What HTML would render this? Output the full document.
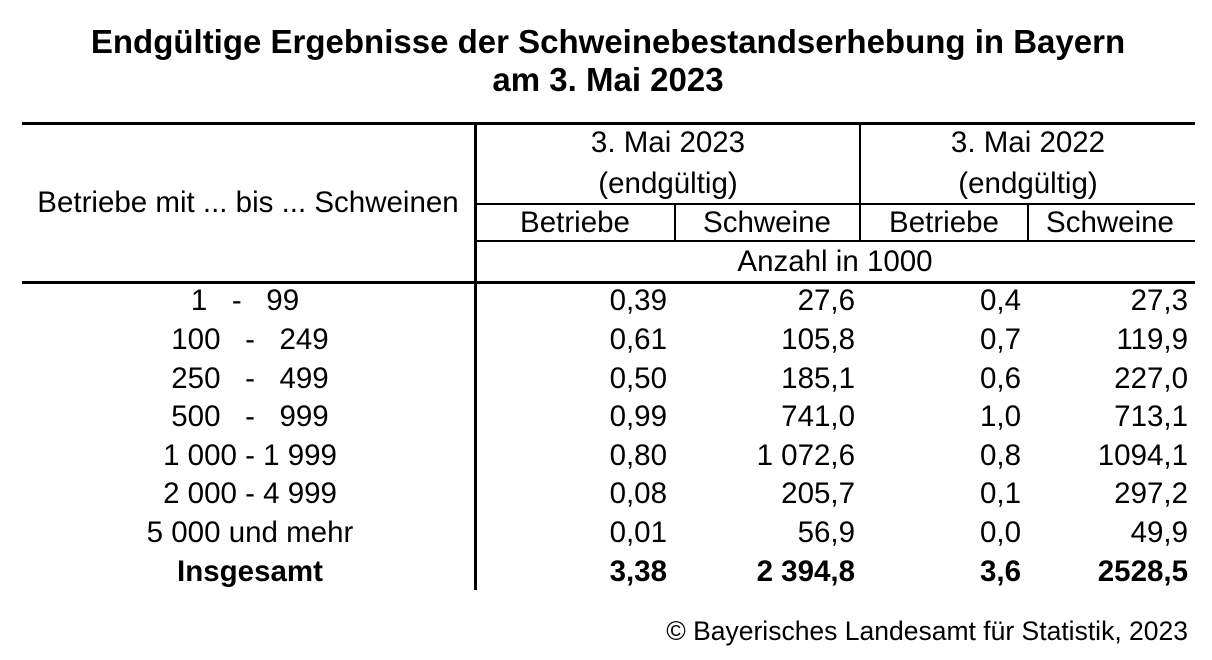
<!DOCTYPE html>
<html><head><meta charset="utf-8"><style>
body{margin:0;width:1212px;height:660px;background:#fff;position:relative;font-family:"Liberation Sans",Arial,sans-serif;color:#000;overflow:hidden}
.t{position:absolute;font-size:29.5px;line-height:28px;white-space:nowrap}
.c{transform:translateX(-50%)}
.r{transform:translateX(-100%)}
.h{position:absolute;background:#000}
.b{font-weight:bold}
</style></head><body>
<div class="t c b" style="left:608px;top:25px;font-size:33px;line-height:34px">Endgültige Ergebnisse der Schweinebestandserhebung in Bayern</div>
<div class="t c b" style="left:608px;top:63px;font-size:33px;line-height:34px">am 3. Mai 2023</div>

<div class="h" style="left:22px;top:122px;width:1173px;height:3px"></div>
<div class="h" style="left:475px;top:203px;width:720px;height:2px"></div>
<div class="h" style="left:475px;top:240px;width:720px;height:2px"></div>
<div class="h" style="left:22px;top:281px;width:1173px;height:3px"></div>
<div class="h" style="left:474px;top:122px;width:3px;height:468px"></div>
<div class="h" style="left:859px;top:122px;width:2px;height:120px"></div>
<div class="h" style="left:674px;top:203px;width:2px;height:39px"></div>
<div class="h" style="left:1027px;top:203px;width:2px;height:39px"></div>

<div class="t c" style="left:248px;top:189px">Betriebe mit ... bis ... Schweinen</div>
<div class="t c" style="left:668px;top:129px">3. Mai 2023</div>
<div class="t c" style="left:668px;top:170px">(endgültig)</div>
<div class="t c" style="left:1028px;top:129px">3. Mai 2022</div>
<div class="t c" style="left:1028px;top:170px">(endgültig)</div>
<div class="t c" style="left:575px;top:209px">Betriebe</div>
<div class="t c" style="left:767px;top:209px">Schweine</div>
<div class="t c" style="left:944px;top:209px">Betriebe</div>
<div class="t c" style="left:1110px;top:209px">Schweine</div>
<div class="t c" style="left:835px;top:248px">Anzahl in 1000</div>

<div class="t c" style="left:245px;top:287px">1&nbsp;&nbsp;&nbsp;-&nbsp;&nbsp;&nbsp;99</div>
<div class="t c" style="left:250px;top:326px">100&nbsp;&nbsp;&nbsp;-&nbsp;&nbsp;&nbsp;249</div>
<div class="t c" style="left:250px;top:365px">250&nbsp;&nbsp;&nbsp;-&nbsp;&nbsp;&nbsp;499</div>
<div class="t c" style="left:250px;top:403px">500&nbsp;&nbsp;&nbsp;-&nbsp;&nbsp;&nbsp;999</div>
<div class="t c" style="left:250px;top:442px">1 000 - 1 999</div>
<div class="t c" style="left:250px;top:480px">2 000 - 4 999</div>
<div class="t c" style="left:250px;top:519px">5 000 und mehr</div>
<div class="t c b" style="left:250px;top:558px">Insgesamt</div>

<div class="t r" style="left:667px;top:287px">0,39</div>
<div class="t r" style="left:667px;top:326px">0,61</div>
<div class="t r" style="left:667px;top:365px">0,50</div>
<div class="t r" style="left:667px;top:403px">0,99</div>
<div class="t r" style="left:667px;top:442px">0,80</div>
<div class="t r" style="left:667px;top:480px">0,08</div>
<div class="t r" style="left:667px;top:519px">0,01</div>
<div class="t r b" style="left:667px;top:558px">3,38</div>

<div class="t r" style="left:855px;top:287px">27,6</div>
<div class="t r" style="left:855px;top:326px">105,8</div>
<div class="t r" style="left:855px;top:365px">185,1</div>
<div class="t r" style="left:855px;top:403px">741,0</div>
<div class="t r" style="left:855px;top:442px">1 072,6</div>
<div class="t r" style="left:855px;top:480px">205,7</div>
<div class="t r" style="left:855px;top:519px">56,9</div>
<div class="t r b" style="left:855px;top:558px">2 394,8</div>

<div class="t r" style="left:1021px;top:287px">0,4</div>
<div class="t r" style="left:1021px;top:326px">0,7</div>
<div class="t r" style="left:1021px;top:365px">0,6</div>
<div class="t r" style="left:1021px;top:403px">1,0</div>
<div class="t r" style="left:1021px;top:442px">0,8</div>
<div class="t r" style="left:1021px;top:480px">0,1</div>
<div class="t r" style="left:1021px;top:519px">0,0</div>
<div class="t r b" style="left:1021px;top:558px">3,6</div>

<div class="t r" style="left:1188px;top:287px">27,3</div>
<div class="t r" style="left:1188px;top:326px">119,9</div>
<div class="t r" style="left:1188px;top:365px">227,0</div>
<div class="t r" style="left:1188px;top:403px">713,1</div>
<div class="t r" style="left:1188px;top:442px">1094,1</div>
<div class="t r" style="left:1188px;top:480px">297,2</div>
<div class="t r" style="left:1188px;top:519px">49,9</div>
<div class="t r b" style="left:1188px;top:558px">2528,5</div>

<div class="t r" style="left:1188px;top:617px;font-size:26.5px">© Bayerisches Landesamt für Statistik, 2023</div>
</body></html>
